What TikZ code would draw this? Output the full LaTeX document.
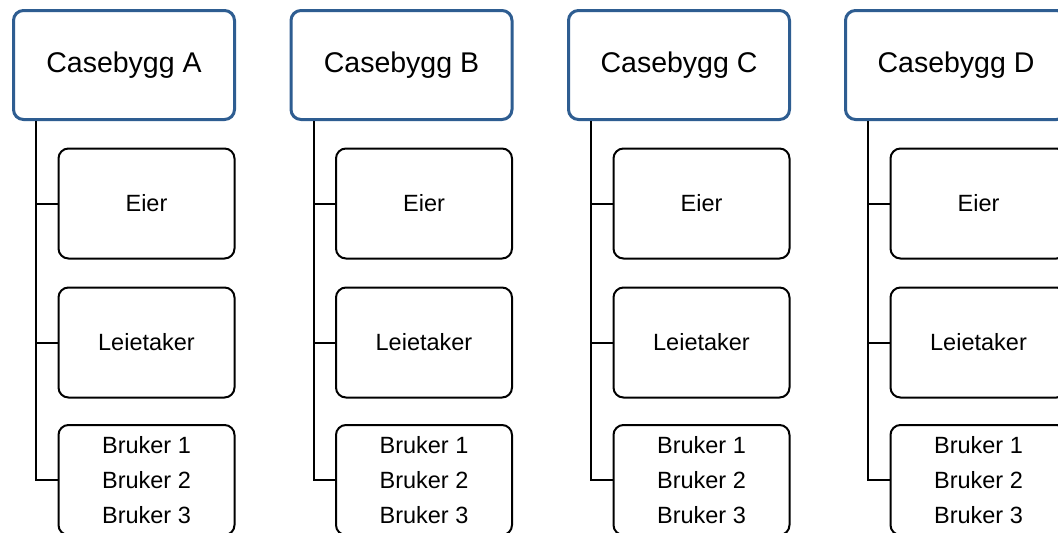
\documentclass[tikz,border=0pt]{standalone}
\usepackage{fontspec}
\setmainfont{Liberation Sans}
\definecolor{boxblue}{RGB}{46,93,145}
\tikzset{
  topbox/.style={draw=boxblue, line width=3pt, rounded corners=10pt, fill=white,
    minimum width=221pt, minimum height=109pt, inner sep=0pt,
    font=\fontsize{28.5}{34}\selectfont},
  childbox/.style={draw=black, line width=2pt, rounded corners=10pt, fill=white,
    minimum width=176pt, minimum height=110pt, inner sep=0pt,
    font=\fontsize{23.5}{35}\selectfont, align=center},
  link/.style={draw=black, line width=2pt}
}
\begin{document}
\begin{tikzpicture}[x=1pt,y=-1pt]
\useasboundingbox (0,0) rectangle (1058,533);
\clip (0,0) rectangle (1058,533);
\fill[white] (0,0) rectangle (1058,533);
\foreach \l/\ox in {A/0,B/277.5,C/555,D/832} {
  \begin{scope}[xshift=\ox pt]
    \coordinate (s\l) at (36,0);
    \node[topbox] (top\l) at (124,65) {\raisebox{-2pt}{Casebygg \l}};
    \node[childbox] (eier\l) at (146.5,203.5) {Eier};
    \node[childbox] (leie\l) at (146.5,342.5) {Leietaker};
    \node[childbox] (bruk\l) at (146.5,480) {Bruker 1\\Bruker 2\\Bruker 3};
    \draw[link] (s\l |- top\l.south) |- (bruk\l.west);
    \draw[link] (s\l |- eier\l.west) -- (eier\l.west);
    \draw[link] (s\l |- leie\l.west) -- (leie\l.west);
  \end{scope}
}
\end{tikzpicture}
\end{document}
